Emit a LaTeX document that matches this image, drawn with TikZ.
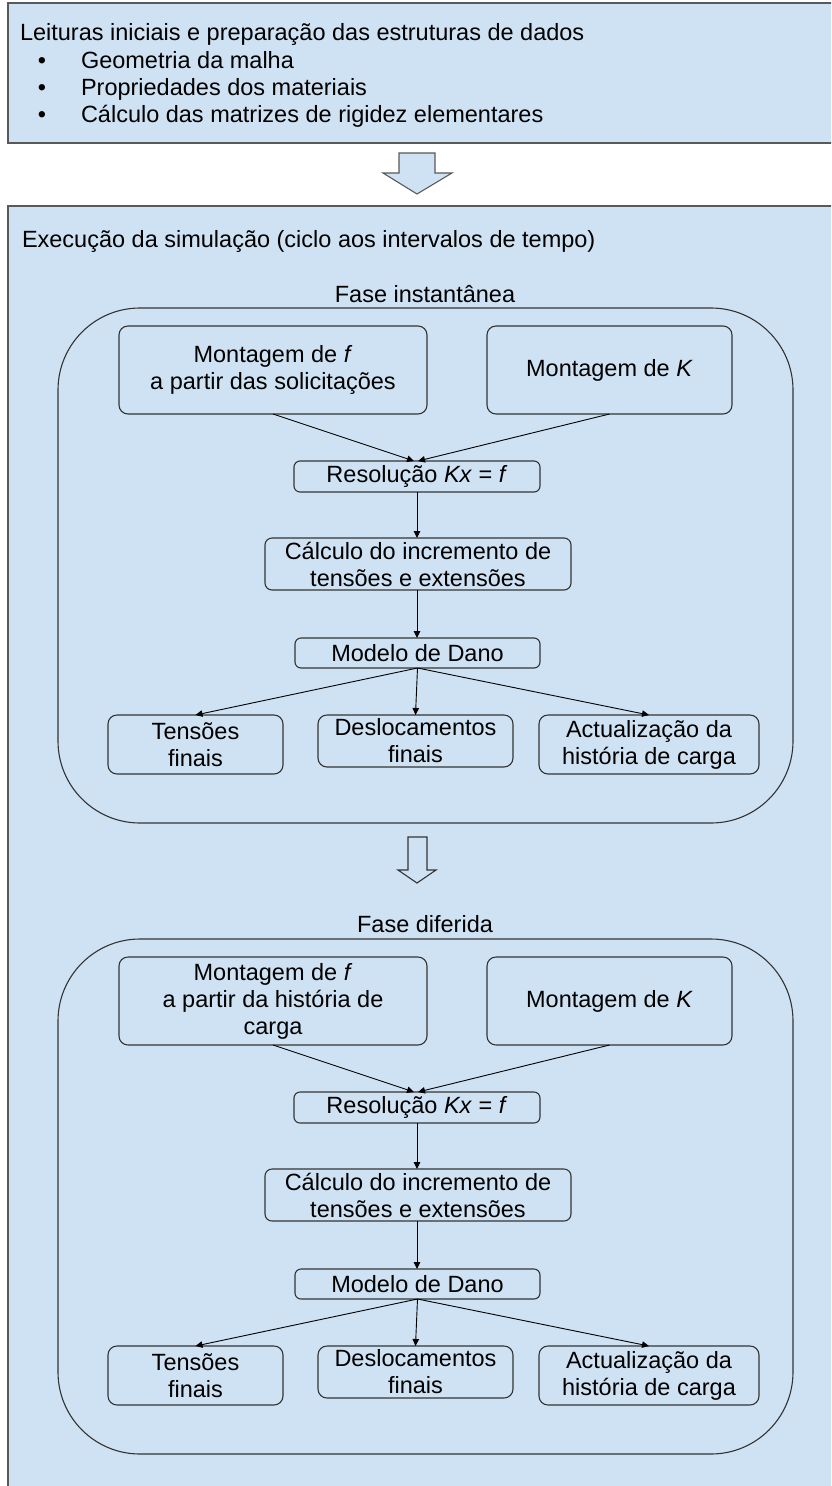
\documentclass[tikz,border=0pt]{standalone}
\usepackage{fontspec}
\setmainfont{Liberation Sans}
\usetikzlibrary{arrows.meta,calc}
\definecolor{lblue}{HTML}{CFE2F3}
\definecolor{edgec}{HTML}{333333}
\definecolor{outerc}{HTML}{595959}
\begin{document}
\begin{tikzpicture}[x=1pt,y=-1pt,
  font=\fontsize{23.5pt}{27pt}\selectfont,
  every node/.style={inner sep=0pt, outer sep=0pt},
  box/.style n args={2}{draw=edgec, line width=1.1pt, fill=lblue, rounded corners=9pt,
     align=center, minimum width=#1pt, minimum height=#2pt},
  phasebox/.style={draw=edgec, line width=1.1pt, rounded corners=82pt,
     minimum width=735pt, minimum height=515pt},
  conn/.style={draw=black, line width=0.9pt, -{Triangle[length=7pt,width=6.5pt]}},
  blockarrow/.style={draw=outerc, line width=1.1pt, fill=lblue, line join=miter},
  txt/.style={anchor=base west},
  bul/.style={anchor=base},
]
\useasboundingbox (0,0) rectangle (831,1486);
\clip (0,0) rectangle (831,1486);
\fill[white] (0,0) rectangle (831,1486);

% top box
\draw[draw=outerc, line width=1.2pt, fill=lblue] (8,3) rectangle (850,143);
\node[txt] (t0) at (20,40) {Leituras iniciais e preparação das estruturas de dados};
\node[bul] (b1) at (42,68) {•};
\node[txt] (t1) at (81,68) {Geometria da malha};
\node[bul] (b2) at (42,95) {•};
\node[txt] (t2) at (81,95) {Propriedades dos materiais};
\node[bul] (b3) at (42,122) {•};
\node[txt] (t3) at (81,122) {Cálculo das matrizes de rigidez elementares};

% block arrow 1
\draw[blockarrow] (399,153) -- (435,153) -- (435,173) -- (452,173) -- (417,194)
   -- (383,173) -- (399,173) -- cycle;

% main box
\draw[draw=outerc, line width=1.2pt, fill=lblue] (8,206) rectangle (850,1520);
\node[txt] (exec) at (22,247) {Execução da simulação (ciclo aos intervalos de tempo)};

% ---------- Phase 1 ----------
\node[anchor=base] (lab1) at (425,302) {Fase instantânea};
\node[phasebox] (ph1) at (425.5,565.5) {};
\node[box={308}{88}] (mf1) at (273,370) {Montagem de \textit{f}\\a partir das solicitações};
\node[box={245}{88}] (mk1) at (609.5,370) {Montagem de \textit{K}};
\node[box={246}{31}, rounded corners=6pt] (res1) at (417,476.5) {Resolução \textit{Kx} = \textit{f}};
\node[box={306}{52}, rounded corners=7pt] (calc1) at (418,564) {Cálculo do incremento de\\tensões e extensões};
\node[box={245}{30}, rounded corners=6pt] (mod1) at (417.5,653) {Modelo de Dano};
\node[box={175}{59}] (ten1) at (195.5,744.5) {Tensões\\finais};
\node[box={195}{52}] (des1) at (415.5,741) {Deslocamentos\\finais};
\node[box={220}{59}] (act1) at (649,744.5) {Actualização da\\história de carga};

\draw[conn] (mf1.south) -- ($(res1.north)+(-3,0)$);
\draw[conn] (mk1.south) -- ($(res1.north)+(1,0)$);
\draw[conn] (res1.south) -- (calc1.north -| res1.south);
\draw[conn] (calc1.south -| res1.south) -- (mod1.north -| res1.south);
\draw[conn] (mod1.south) -- (ten1.north);
\draw[conn] (mod1.south) -- (des1.north);
\draw[conn] (mod1.south) -- (act1.north);

% block arrow 2
\draw[blockarrow, draw=edgec] (408,837) -- (427,837) -- (427,870) -- (436,870) -- (417,883)
   -- (398,870) -- (408,870) -- cycle;

% ---------- Phase 2 ----------
\node[anchor=base] (lab2) at (425,932) {Fase diferida};
\node[phasebox] (ph2) at (425.5,1196.5) {};
\node[box={308}{88}] (mf2) at (273,1001) {Montagem de \textit{f}\\a partir da história de\\carga};
\node[box={245}{88}] (mk2) at (609.5,1001) {Montagem de \textit{K}};
\node[box={246}{31}, rounded corners=6pt] (res2) at (417,1107.5) {Resolução \textit{Kx} = \textit{f}};
\node[box={306}{52}, rounded corners=7pt] (calc2) at (418,1195) {Cálculo do incremento de\\tensões e extensões};
\node[box={245}{30}, rounded corners=6pt] (mod2) at (417.5,1284) {Modelo de Dano};
\node[box={175}{59}] (ten2) at (195.5,1375.5) {Tensões\\finais};
\node[box={195}{52}] (des2) at (415.5,1372) {Deslocamentos\\finais};
\node[box={220}{59}] (act2) at (649,1375.5) {Actualização da\\história de carga};

\draw[conn] (mf2.south) -- ($(res2.north)+(-3,0)$);
\draw[conn] (mk2.south) -- ($(res2.north)+(1,0)$);
\draw[conn] (res2.south) -- (calc2.north -| res2.south);
\draw[conn] (calc2.south -| res2.south) -- (mod2.north -| res2.south);
\draw[conn] (mod2.south) -- (ten2.north);
\draw[conn] (mod2.south) -- (des2.north);
\draw[conn] (mod2.south) -- (act2.north);
\end{tikzpicture}
\end{document}
